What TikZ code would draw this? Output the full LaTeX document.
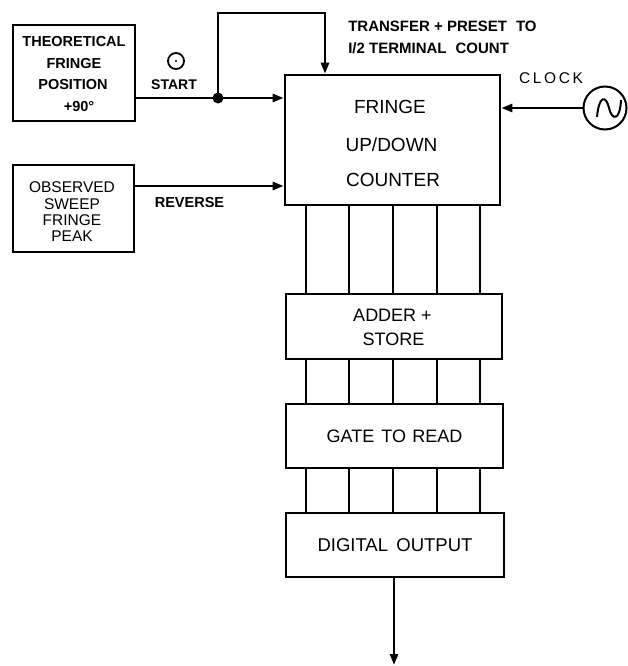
\documentclass[tikz,border=0pt]{standalone}
\usepackage{fontspec}
\setmainfont{Liberation Sans}
\usetikzlibrary{arrows.meta,calc}
\begin{document}
\begin{tikzpicture}[x=1pt,y=-1pt,
  line width=2.6pt,
  box/.style={draw,line width=2.6pt,inner sep=0pt,anchor=center},
  txt/.style={inner sep=0pt,anchor=base},
  arr/.style={-{Triangle[length=11pt,width=8pt]}},
  bus/.style={line width=2.6pt}]
\useasboundingbox (0,0) rectangle (627,666);
% boxes
\node[box,minimum width=122pt,minimum height=96pt] (theo) at (74,73) {};
\node[box,minimum width=121pt,minimum height=87pt] (obs) at (73.5,208.5) {};
\node[box,minimum width=215pt,minimum height=130pt] (cnt) at (392.5,140) {};
\node[box,minimum width=216pt,minimum height=65pt] (add) at (394,326.5) {};
\node[box,minimum width=217pt,minimum height=64pt,font=\fontsize{18}{20}\selectfont] (gate) at (394.5,436)
  {GATE\hspace{0.4em}TO\hspace{0.35em}READ};
\node[box,minimum width=218pt,minimum height=64pt,font=\fontsize{18.5}{20}\selectfont] (dig) at (395,545)
  {DIGITAL\hspace{0.45em}OUTPUT};
% texts inside boxes
\begin{scope}[every node/.style={txt,font=\bfseries\fontsize{14.5}{16}\selectfont}]
\node (theo1) at (74,46.2) {THEORETICAL};
\node (theo2) at (74,68.2) {FRINGE};
\node (theo3) at (73,89.2) {POSITION};
\node (theo4) at (79,111.2) {+90\textdegree};
\end{scope}
\begin{scope}[every node/.style={txt,font=\fontsize{15.5}{16}\selectfont}]
\node (obs1) at (72,192.6) {OBSERVED};
\node (obs2) at (72,209.6) {SWEEP};
\node (obs3) at (72,225.6) {FRINGE};
\node (obs4) at (72,241.6) {PEAK};
\end{scope}
\begin{scope}[every node/.style={txt,font=\fontsize{19}{20}\selectfont}]
\node (cnt1) at (390,113.8) {FRINGE};
\node (cnt2) at (391.5,151.8) {UP/DOWN};
\node (cnt3) at (393,186.8) {COUNTER};
\end{scope}
\begin{scope}[every node/.style={txt,font=\fontsize{18}{20}\selectfont}]
\node (add1) at (392.5,321.5) {ADDER +};
\node (add2) at (393.5,345.5) {STORE};
\end{scope}
% start symbol
\node[draw,circle,minimum size=16pt,inner sep=0pt,line width=1.8pt] (start) at (176,61) {};
\fill (start.center) circle (1.2pt);
\node[txt,font=\bfseries\fontsize{14}{15}\selectfont] (startlbl) at (174,90) {START};
% junction
\coordinate (junc) at (218,98);
\coordinate (topL) at (218,13);
\coordinate (topR) at (325,13);
\fill (junc) circle (5.5pt);
\draw (theo.east |- junc) -- (junc);
\draw[arr] (junc) -- (cnt.west |- junc);
\draw[arr] (junc) -- (topL) -- (topR) -- (topR |- cnt.north);
\begin{scope}[every node/.style={txt,anchor=base west,font=\bfseries\fontsize{15}{16}\selectfont}]
\node (xfer1) at (347,31.4) {TRANSFER + PRESET\hspace{0.6em}TO};
\node (xfer2) at (347,53.4) {I/2 TERMINAL\hspace{0.6em}COUNT};
\end{scope}
% reverse
\coordinate (revpt) at (134,186);
\draw[arr] (obs.east |- revpt) -- (cnt.west |- revpt);
\node[txt,font=\bfseries\fontsize{14.5}{15}\selectfont] (revlbl) at (189.5,207.2) {REVERSE};
% clock
\node[draw,circle,minimum size=43pt,inner sep=0pt,line width=2pt] (clk) at (605,108) {};
\draw[line width=2pt] (597,117) .. controls (599,95) and (606,95) .. (609,108) .. controls (612,121) and (620,121) .. (621,100);
\draw[arr] (clk.west) -- (cnt.east |- clk.west);
\node[txt,font=\fontsize{15.5}{18}\selectfont] (clklbl) at (551,83.6) {C\,L\,O\,C\,K};
% bus lines
\foreach \i/\x in {1/306,2/349,3/393,4/437,5/480}{
  \coordinate (b\i) at (\x,0);
  \draw[bus] (cnt.south -| b\i) -- (add.north -| b\i);
  \draw[bus] (add.south -| b\i) -- (gate.north -| b\i);
  \draw[bus] (gate.south -| b\i) -- (dig.north -| b\i);
}
% output
\coordinate (out) at (394,665);
\draw[arr] (dig.south -| out) -- (out);
\end{tikzpicture}
\end{document}
